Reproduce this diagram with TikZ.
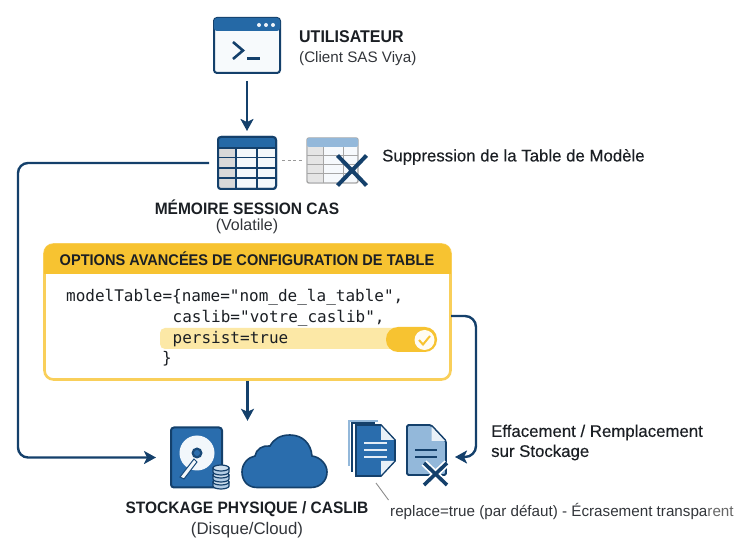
\documentclass[tikz,border=0pt]{standalone}
\usepackage{fontspec}
\setmainfont{Liberation Sans}
\setmonofont{DejaVu Sans Mono}
\newfontfamily\medfont[FakeBold=0.3]{Liberation Sans}
\newfontfamily\capsfont[FakeStretch=0.94]{Liberation Sans}
\usetikzlibrary{arrows.meta}
\definecolor{navy}{HTML}{14406B}
\definecolor{midblue}{HTML}{2A6DAD}
\definecolor{paleblue}{HTML}{93B8DA}
\definecolor{barblue}{HTML}{2569A6}
\definecolor{gold}{HTML}{F7C331}
\definecolor{softgold}{HTML}{FCE8A6}
\definecolor{inktext}{HTML}{1B1F24}
\tikzset{
  flow/.style={draw=navy, line width=2.4pt, -{Stealth[length=12pt,width=13pt,inset=3pt]}},
  iconbox/.style={draw=navy, line width=2pt, rounded corners=3pt, inner sep=0pt, fill=#1},
  strongtext/.style={font=\fontsize{16.5}{19}\selectfont\capsfont\bfseries, text=inktext, inner sep=0pt},
  medtext/.style={font=\fontsize{16.8}{20}\selectfont\medfont, text=inktext, inner sep=0pt, align=left},
  plaintext/.style={font=\fontsize{15.2}{18}\selectfont, text=inktext!90, inner sep=0pt},
  codetext/.style={font=\fontsize{16}{20}\selectfont\ttfamily, text=inktext, inner sep=0pt, anchor=west},
}
\begin{document}
\begin{tikzpicture}[x=1pt,y=-1pt]
  \useasboundingbox (0,0) rectangle (740,545);

  % terminal at the top
  \node[iconbox=white!93!paleblue, minimum width=66, minimum height=55] (terminal) at (247,45.5) {};
  \fill[barblue, rounded corners=3pt] (214,18) rectangle (280,31);
  \foreach \dotx in {259,266,273}
    \fill[white!85!paleblue] (\dotx,25) circle (2);
  \draw[navy, line width=2.6pt] (233,42) -- (243,50.5) -- (233,59);
  \draw[navy, line width=2.6pt] (247,58.5) -- (260,58.5);
  \node[strongtext, font=\fontsize{17}{19}\selectfont\capsfont\bfseries, anchor=west] (usertitle) at (299,37) {UTILISATEUR};
  \node[plaintext, anchor=west] (usersub) at (299,58.5) {(Client SAS Viya)};

  % session table
  \node[iconbox=white!90!paleblue, minimum width=58, minimum height=52] (memtable) at (247,163) {};
  \fill[black!15] (219,148) rectangle (236,188);
  \fill[barblue, rounded corners=2pt] (218,137) rectangle (276,148);
  \foreach \rowy in {148,157.5,168,178}
    \draw[navy, line width=1.6pt] (218,\rowy) -- (276,\rowy);
  \foreach \colx in {236,257}
    \draw[navy, line width=1.6pt] (\colx,148) -- (\colx,189);
  \draw[navy, line width=2pt, rounded corners=3pt] (218,137) rectangle (276,189);
  \node[strongtext] (memtitle) at (247,207) {MÉMOIRE SESSION CAS};
  \node[plaintext, font=\fontsize{16}{18}\selectfont] (memsub) at (247,226.5) {(Volatile)};

  % deleted table
  \node[draw=black!35, line width=1.4pt, rounded corners=2pt, fill=white!92!paleblue, inner sep=0pt,
    minimum width=51, minimum height=45] (ghosttable) at (332.5,160.5) {};
  \fill[black!10] (308,147) rectangle (323,182);
  \fill[paleblue, rounded corners=2pt] (307,138) rectangle (358,147);
  \foreach \rowy in {156,165,174}
    \draw[black!35, line width=1pt] (307,\rowy) -- (358,\rowy);
  \foreach \colx in {323,343}
    \draw[black!35, line width=1pt] (\colx,147) -- (\colx,183);
  \draw[navy, line width=4pt] (337.5,155.5) -- (366.5,185.5) (366.5,155.5) -- (337.5,185.5);
  \draw[black!40, line width=1pt, dash pattern=on 3pt off 2.5pt, shorten <=5pt, shorten >=4pt]
    (memtable.east |- ghosttable.west) -- (ghosttable.west);
  \node[medtext, anchor=west] (droplabel) at (382,157) {Suppression de la Table de Modèle};

  % options box
  \node[draw=gold!80!white, line width=2.6pt, rounded corners=9pt, fill=white, inner sep=0pt,
    minimum width=406, minimum height=135] (optbox) at (247.5,312) {};
  \begin{scope}
    \clip[rounded corners=9pt] (44,244) rectangle (451,380);
    \fill[gold] (44,244) rectangle (451,274);
  \end{scope}
  \node[font=\fontsize{15.5}{18}\selectfont\capsfont\bfseries, text=inktext, inner sep=0pt] (opttitle) at (247,259)
    {OPTIONS AVANCÉES DE CONFIGURATION DE TABLE};
  \fill[softgold, rounded corners=5pt] (160,328) rectangle (400,349);
  \fill[gold, rounded corners=12pt] (386,327) rectangle (437,352);
  \node[circle, fill=white!88!softgold, inner sep=0pt, minimum size=20] (tick) at (424.5,340) {};
  \draw[gold, line width=2pt] (419,340) -- (423,344.5) -- (430,336);
  \node[codetext] (codea) at (66,297) {modelTable=\{name="nom\_de\_la\_table",};
  \node[codetext] (codeb) at (172.5,318) {caslib="votre\_caslib",};
  \node[codetext] (codec) at (172.5,339) {persist=true};
  \node[codetext] (coded) at (162,359) {\}};

  % disk
  \node[iconbox=midblue, minimum width=51, minimum height=60] (disk) at (196.5,457.5) {};
  \fill[white!88!paleblue] (197,453) circle (17.5);
  \fill[navy!80!midblue] (197,453) circle (5.5);
  \fill[midblue] (197,453) circle (3);
  \draw[navy!80!midblue, line width=1pt, fill=white!90!paleblue] (180,477) -- (194,459) -- (197,462) -- (184,479) -- cycle;
  \foreach \stacky in {486,479,472}{
    \draw[navy, line width=1.2pt, fill=paleblue!70!white] (213,\stacky) -- (213,\stacky-4) -- (229,\stacky-4) -- (229,\stacky)
      arc[start angle=0, end angle=-180, x radius=8, y radius=-3] -- cycle;
    \draw[navy, line width=1.2pt, fill=paleblue!45!white] (221,\stacky-4) ellipse (8 and 3);
  }

  % cloud
  \node[inner sep=0pt, minimum width=85, minimum height=53] (cloud) at (284.5,461.5) {};
  \draw[navy, line width=1.6pt, fill=midblue] (257,487.5) .. controls (247,487.5) and (242,480) .. (242,472)
    .. controls (242,463) and (249,457) .. (255,456) .. controls (256,449) and (263,445) .. (270,446)
    .. controls (274,439) and (280,435) .. (290,435) .. controls (303,435) and (311,444) .. (312,456)
    .. controls (320,457) and (327,464) .. (327,472) .. controls (327,481) and (320,487.5) .. (311,487.5) -- cycle;
  \node[strongtext] (storetitle) at (247,509) {STOCKAGE PHYSIQUE / CASLIB};
  \node[plaintext, font=\fontsize{16.8}{18}\selectfont] (storesub) at (247,530.5) {(Disque/Cloud)};

  % documents
  \draw[paleblue, line width=1.2pt] (378,421) -- (349,421) -- (349,466);
  \draw[navy, line width=1.2pt] (375,423) -- (352,423) -- (352,472);
  \draw[navy, line width=1.6pt, fill=midblue] (356,425) -- (381,425) -- (395,440) -- (395,461) -- (381,476) -- (356,476) -- cycle;
  \fill[white!80!paleblue] (381,426) -- (394,440) -- (381,440) -- cycle;
  \fill[white!80!paleblue] (381,475) -- (394,461) -- (381,461) -- cycle;
  \foreach \liney in {443,450,457}
    \draw[white!75!paleblue, line width=1.6pt] (364,\liney) -- (387,\liney);
  \node[inner sep=0pt, minimum width=39, minimum height=51] (docblue) at (375.5,450.5) {};

  \draw[navy, line width=1.8pt, fill=paleblue, rounded corners=1.5pt] (407,425) -- (431,425) -- (446,441) -- (446,475) -- (407,475) -- cycle;
  \fill[white!80!paleblue] (431.5,426.5) -- (445,441) -- (431.5,441) -- cycle;
  \foreach \liney in {450,457}
    \draw[navy, line width=1.6pt] (415,\liney) -- (437,\liney);
  \draw[white, line width=7pt] (424,463) -- (447,485) (447,463) -- (424,485);
  \draw[navy, line width=3.6pt] (424,463) -- (447,485) (447,463) -- (424,485);
  \node[inner sep=0pt, minimum width=39, minimum height=50] (docx) at (426.5,450) {};

  \node[medtext, anchor=north west] (wipelabel) at (491,424.5) {Effacement / Remplacement\\sur Stockage};
  \node[plaintext, anchor=west] (replacelabel) at (390,511.5)
    {replace=true (par défaut) - Écrasement transpa{\color{black!60}rent}};

  % connectors
  \coordinate (leftrail) at (18,300);
  \coordinate (rightrail) at (476,400);
  \coordinate (optout) at (451,316);
  \coordinate (docin) at (455,457);
  \coordinate (leadtop) at (376,483);
  \coordinate (leadend) at (388.5,500);
  \draw[flow] (terminal.south) ++(0,7) -- ++(0,50);
  \draw[flow, rounded corners=10pt, shorten <=8pt, shorten >=14pt] (memtable.west) -| (leftrail) |- (disk.west);
  \draw[flow] (optbox.south) -- ++(0,40);
  \draw[flow, rounded corners=11pt] (optout) -| (rightrail) |- (docin);
  \draw[black!45, line width=0.9pt] (leadtop) -- (leadend);
\end{tikzpicture}
\end{document}
